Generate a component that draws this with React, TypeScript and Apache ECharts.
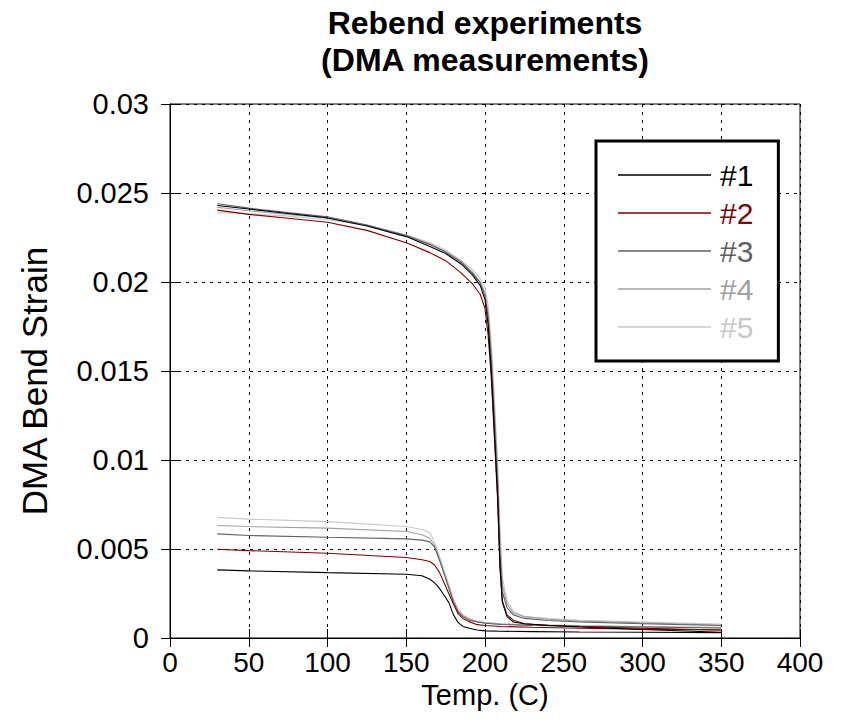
import React, { useEffect, useRef } from "react";
import * as echarts from "echarts";

const titleText = "Rebend experiments\n(DMA measurements)";
const xName = "Temp. (C)";
const yName = "DMA Bend Strain";
const seriesNames = ["#1", "#2", "#3", "#4", "#5"];
const seriesColors = ["#000000", "#800000", "#606060", "#a0a0a0", "#c8c8c8"];

// Rebend (upper) curves
const rebendTemp = [30, 50, 75, 100, 125, 150, 165, 175, 185, 192, 197, 200, 202, 204, 206, 208, 209.5, 211, 214, 218, 225, 240, 260, 300, 350];
const rebend1 = [0.0243, 0.0241, 0.02385, 0.0236, 0.02315, 0.02255, 0.022, 0.0216, 0.021, 0.0204, 0.0198, 0.019, 0.0176, 0.015, 0.0115, 0.008, 0.004, 0.002, 0.0012, 0.0009, 0.0008, 0.0007, 0.00062, 0.00048, 0.00032];
const rebend2 = [0.02404, 0.0238, 0.02358, 0.02336, 0.0229, 0.0222, 0.02165, 0.0212, 0.0205, 0.0199, 0.0193, 0.0185, 0.017, 0.0146, 0.0112, 0.0078, 0.004, 0.0021, 0.0013, 0.001, 0.0008, 0.00072, 0.00065, 0.00055, 0.00045];
const rebend3 = [0.0244, 0.02415, 0.0239, 0.02367, 0.0232, 0.0226, 0.0221, 0.02168, 0.0211, 0.0205, 0.01995, 0.0192, 0.018, 0.0156, 0.0122, 0.0087, 0.0048, 0.0026, 0.0017, 0.0013, 0.0011, 0.00098, 0.0009, 0.0008, 0.0007];
const rebend4 = [0.0242, 0.024, 0.0238, 0.0236, 0.0232, 0.02262, 0.02215, 0.02172, 0.02115, 0.02055, 0.02, 0.0194, 0.0183, 0.016, 0.0128, 0.0094, 0.0055, 0.003, 0.0019, 0.0014, 0.0012, 0.00105, 0.00095, 0.00085, 0.00072];
const rebend5 = [0.0239, 0.02385, 0.0237, 0.0235, 0.02318, 0.02265, 0.0222, 0.0218, 0.0212, 0.0207, 0.0202, 0.0197, 0.0187, 0.0166, 0.0134, 0.01, 0.0062, 0.0034, 0.0021, 0.0015, 0.0012, 0.0011, 0.001, 0.0009, 0.00078];

// Initial bend (lower) curves
const bendTemp = [30, 50, 100, 150, 160, 165, 168, 171, 174, 177, 180, 183, 186, 190, 195, 200, 210, 230, 260, 300, 350];
const bend1 = [0.00383, 0.00377, 0.00367, 0.00358, 0.0035, 0.0033, 0.0031, 0.0028, 0.0024, 0.002, 0.0013, 0.00086, 0.00065, 0.00055, 0.00045, 0.0004, 0.00038, 0.00036, 0.00034, 0.00032, 0.0003];
const bend2 = [0.00499, 0.00491, 0.00476, 0.00452, 0.0044, 0.0043, 0.0041, 0.0037, 0.0031, 0.0025, 0.0019, 0.00135, 0.0011, 0.00092, 0.00075, 0.0007, 0.00065, 0.0006, 0.00055, 0.0005, 0.00045];
const bend3 = [0.00585, 0.00576, 0.00566, 0.00557, 0.0055, 0.0054, 0.0051, 0.0044, 0.0036, 0.0028, 0.002, 0.00145, 0.0012, 0.001, 0.0009, 0.00083, 0.00076, 0.0007, 0.00066, 0.00062, 0.00056];
const bend4 = [0.00632, 0.00626, 0.00617, 0.00598, 0.0058, 0.0056, 0.0052, 0.0045, 0.0037, 0.0029, 0.0021, 0.0015, 0.00125, 0.00105, 0.00092, 0.00085, 0.00078, 0.00073, 0.00068, 0.00063, 0.00058];
const bend5 = [0.00677, 0.00668, 0.00654, 0.00626, 0.0061, 0.0059, 0.0054, 0.0046, 0.0038, 0.003, 0.0022, 0.0016, 0.0013, 0.0011, 0.00095, 0.00088, 0.0008, 0.00075, 0.0007, 0.00065, 0.0006];

const rebendValues = [rebend1, rebend2, rebend3, rebend4, rebend5];
const bendValues = [bend1, bend2, bend3, bend4, bend5];

const FONT = "'Liberation Sans', Arial, Helvetica, sans-serif";

export default function App() {
  const ref = useRef<HTMLDivElement>(null);

  useEffect(() => {
    if (!ref.current) return;
    const chart = echarts.init(ref.current, null, { renderer: "svg" });

    const pair = (t: number[], v: number[]) => t.map((x, i) => [x, v[i]]);
    const series: any[] = [];
    seriesNames.forEach((name, i) => {
      const common = {
        name,
        type: "line",
        xAxisIndex: 0,
        yAxisIndex: 0,
        symbol: "none",
        showSymbol: false,
        lineStyle: { color: seriesColors[i], width: 1.1 },
        itemStyle: { color: seriesColors[i] },
        z: 10 - i,
      };
      series.push({ ...common, data: pair(bendTemp, bendValues[i]) });
      series.push({ ...common, data: pair(rebendTemp, rebendValues[i]) });
    });

    const gridDash = { color: "#000", width: 1, type: [3, 5] as any };

    chart.setOption({
      animation: false,
      backgroundColor: "#fff",
      textStyle: { fontFamily: FONT },
      graphic: [
        {
          type: "text",
          x: 485,
          y: 4,
          style: {
            text: titleText,
            align: "center",
            verticalAlign: "top",
            font: `bold 32px ${FONT}`,
            lineHeight: 37,
            fill: "#000",
          },
        },
        {
          type: "text",
          x: 34,
          y: 381,
          rotation: Math.PI / 2,
          style: {
            text: yName,
            align: "center",
            verticalAlign: "middle",
            font: `35px ${FONT}`,
            fill: "#000",
          },
        },
      ],
      legend: {
        orient: "vertical",
        left: 596,
        top: 141,
        padding: [19, 25, 19, 22],
        itemGap: 8,
        itemWidth: 93,
        itemHeight: 1.5,
        icon: "rect",
        borderColor: "#000",
        borderWidth: 3,
        backgroundColor: "#fff",
        data: seriesNames.map((n, i) => ({
          name: n,
          textStyle: { color: seriesColors[i] },
        })),
        textStyle: { fontSize: 30, fontFamily: FONT, padding: [0, 0, 0, 4] },
        selectedMode: false,
      },
      grid: {
        left: 170,
        right: 43,
        top: 104,
        bottom: 86,
        show: true,
        borderColor: "#000",
        borderWidth: 1,
        backgroundColor: "#fff",
      },
      xAxis: [
        {
          type: "value",
          min: 0,
          max: 400,
          interval: 50,
          name: xName,
          nameLocation: "middle",
          nameGap: 42,
          nameTextStyle: { fontSize: 29, color: "#000", fontFamily: FONT },
          axisLine: { show: true, lineStyle: { color: "#000" } },
          axisTick: { show: true, inside: true, length: 9, lineStyle: { color: "#000" } },
          axisLabel: { fontSize: 28, color: "#000", margin: 10, fontFamily: FONT },
          splitLine: { show: true, lineStyle: gridDash },
        },
        {
          type: "value",
          position: "top",
          min: 0,
          max: 400,
          interval: 50,
          axisLine: { show: true, lineStyle: { color: "#000" } },
          axisTick: { show: true, inside: true, length: 9, lineStyle: { color: "#000" } },
          axisLabel: { show: false },
          splitLine: { show: false },
        },
      ],
      yAxis: [
        {
          type: "value",
          min: 0,
          max: 0.03,
          interval: 0.005,
          axisLine: { show: true, lineStyle: { color: "#000" } },
          axisTick: { show: true, inside: true, length: 9, lineStyle: { color: "#000" } },
          axisLabel: { fontSize: 29, color: "#000", margin: 21, fontFamily: FONT },
          splitLine: { show: true, lineStyle: gridDash },
        },
        {
          type: "value",
          position: "right",
          min: 0,
          max: 0.03,
          interval: 0.005,
          axisLine: { show: true, lineStyle: { color: "#000" } },
          axisTick: { show: true, inside: true, length: 9, lineStyle: { color: "#000" } },
          axisLabel: { show: false },
          splitLine: { show: false },
        },
      ],
      series,
    });

    return () => chart.dispose();
  }, []);

  return (
    <div
      ref={ref}
      style={{ position: "absolute", left: 0, top: 0, width: 843, height: 724 }}
    />
  );
}
